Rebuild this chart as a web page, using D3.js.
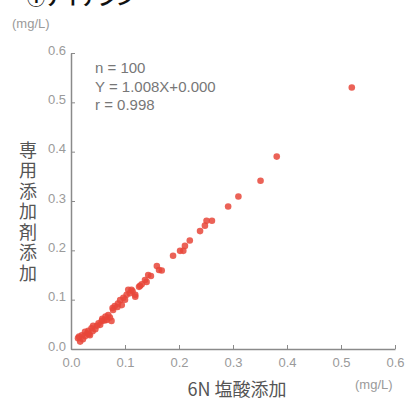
<!DOCTYPE html>
<html lang="ja">
<head>
<meta charset="UTF-8">
<title>専用添加剤添加 vs 6N 塩酸添加</title>
<style>
  body { margin: 0; background: #fff; }
  svg { display: block; }
</style>
</head>
<body>
<script src="https://cdn.jsdelivr.net/npm/d3@7"></script>
<script>
const svg_w = 414;
const svg_h = 403;

// readings (mg/L): 6N 塩酸添加 (x) vs 専用添加剤添加 (y)
const hcl_vals = [
  0.520, 0.381, 0.351, 0.310, 0.291, 0.261, 0.251, 0.248, 0.239, 0.220,
  0.211, 0.202, 0.208, 0.189, 0.159, 0.168, 0.163, 0.143, 0.148, 0.137,
  0.140, 0.128, 0.126, 0.112, 0.106, 0.119, 0.119, 0.103, 0.097, 0.091,
  0.100, 0.094, 0.081, 0.077, 0.078, 0.086, 0.069, 0.072, 0.066, 0.075,
  0.057, 0.062, 0.054, 0.048, 0.041, 0.045, 0.038, 0.032, 0.035, 0.026,
  0.020, 0.015, 0.017, 0.026, 0.030, 0.022, 0.051, 0.058, 0.064, 0.087,
  0.109, 0.114, 0.131, 0.013, 0.040, 0.033
];
const additive_vals = [
  0.530, 0.390, 0.341, 0.309, 0.289, 0.260, 0.260, 0.250, 0.239, 0.220,
  0.209, 0.199, 0.199, 0.189, 0.168, 0.159, 0.160, 0.150, 0.148, 0.140,
  0.136, 0.128, 0.126, 0.120, 0.120, 0.110, 0.106, 0.110, 0.104, 0.099,
  0.100, 0.089, 0.087, 0.083, 0.079, 0.085, 0.069, 0.064, 0.059, 0.057,
  0.057, 0.058, 0.049, 0.047, 0.047, 0.040, 0.042, 0.037, 0.028, 0.035,
  0.028, 0.025, 0.015, 0.026, 0.032, 0.020, 0.052, 0.061, 0.066, 0.092,
  0.113, 0.117, 0.131, 0.022, 0.036, 0.030
];
const tick_vals = [0, 0.1, 0.2, 0.3, 0.4, 0.5, 0.6];
const stat_lines = ['n = 100', 'Y = 1.008X+0.000', 'r = 0.998'];

const points = hcl_vals.map((x, i) => ({ x: x, y: additive_vals[i] }));

const svg = d3.select('body')
  .append('svg')
  .attr('width', svg_w)
  .attr('height', svg_h);

const x = d3.scaleLinear().domain([0, 0.6]).range([71, 395]);
const y = d3.scaleLinear().domain([0, 0.6]).range([349, 53]);

// cut-off title at the very top
svg.append('text')
  .attr('x', 27).attr('y', 5)
  .attr('font-family', 'Noto Sans CJK JP')
  .attr('font-size', 18).attr('font-weight', 'bold')
  .attr('fill', '#111')
  .text('①ナイアシン');

const axis_col = '#8a8a8a';
const label_col = '#9a9a9a';

const xAxis = svg.append('g')
  .attr('transform', `translate(0,${y(0)})`)
  .call(d3.axisBottom(x).tickValues(tick_vals).tickFormat(d3.format('.1f')).tickSizeInner(-4).tickSizeOuter(0));

const yAxis = svg.append('g')
  .attr('transform', `translate(${x(0)},0)`)
  .call(d3.axisLeft(y).tickValues(tick_vals).tickFormat(d3.format('.1f')).tickSizeInner(-4).tickSizeOuter(0));

[xAxis, yAxis].forEach(g => {
  g.select('.domain').attr('stroke', axis_col).attr('stroke-width', 1.5);
  g.selectAll('.tick line').attr('stroke', axis_col);
  g.selectAll('.tick text')
    .attr('fill', label_col)
    .attr('font-family', 'Liberation Sans')
    .attr('font-size', 13);
});
xAxis.selectAll('.tick text').attr('y', 9);
yAxis.selectAll('.tick text').attr('x', -5).attr('dy', '0.1em');

svg.append('g')
  .selectAll('circle')
  .data(points)
  .enter()
  .append('circle')
  .attr('cx', d => x(d.x))
  .attr('cy', d => y(d.y))
  .attr('r', 3.3)
  .attr('fill', '#e8463a')
  .attr('opacity', 0.85);

svg.append('g')
  .selectAll('text')
  .data(stat_lines)
  .enter()
  .append('text')
  .attr('x', 95)
  .attr('y', (d, i) => 73 + i * 18.5)
  .attr('font-family', 'Liberation Sans')
  .attr('font-size', 15)
  .attr('fill', '#777')
  .text(d => d);

// units
svg.append('text')
  .attr('x', 12).attr('y', 28)
  .attr('font-family', 'Liberation Sans').attr('font-size', 13)
  .attr('fill', label_col)
  .text('(mg/L)');
svg.append('text')
  .attr('x', 355).attr('y', 389)
  .attr('font-family', 'Liberation Sans').attr('font-size', 13)
  .attr('fill', label_col)
  .text('(mg/L)');

// axis titles
svg.append('text')
  .attr('x', 237).attr('y', 396)
  .attr('text-anchor', 'middle')
  .attr('font-family', 'Noto Sans CJK JP').attr('font-size', 18)
  .attr('fill', '#555')
  .text('6N 塩酸添加');

svg.append('text')
  .attr('x', 28).attr('y', 141)
  .style('writing-mode', 'vertical-rl')
  .style('letter-spacing', '2.5px')
  .attr('font-family', 'Noto Sans CJK JP').attr('font-size', 18)
  .attr('fill', '#555')
  .text('専用添加剤添加');
</script>
</body>
</html>
